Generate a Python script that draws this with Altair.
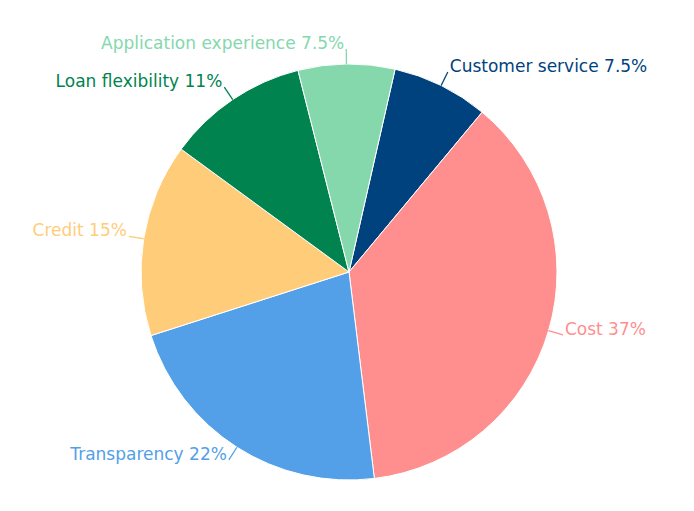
import math
import altair as alt
import pandas as pd

# Data (clockwise from the slice right of 12 o'clock)
categories = ["Customer service", "Cost", "Transparency", "Credit",
              "Loan flexibility", "Application experience"]
values = [7.5, 37, 22, 15, 11, 7.5]
colors = ["#00427e", "#ff8f8f", "#53a0e8", "#ffcd7a", "#00834f", "#84d8ac"]

df = pd.DataFrame({
    "category": categories,
    "value": values,
    "color": colors,
    "order": list(range(len(categories))),
})

CX, CY = 341, 264      # pie centre (chart coordinates)
R = 208                # pie radius
R_LINE = 223           # connector end radius
START = 12.8 * math.pi / 180
FONT = "DejaVu Sans"
FS = 17

base = (
    alt.Chart(df)
    .transform_joinaggregate(total="sum(value)")
    .transform_window(cum="sum(value)", sort=[alt.SortField("order")], frame=[None, 0])
    .transform_calculate(a0=f"{START} + 2*PI*(datum.cum - datum.value)/datum.total")
    .transform_calculate(a1=f"{START} + 2*PI*datum.cum/datum.total")
    .transform_calculate(mid="(datum.a0 + datum.a1)/2")
    .transform_calculate(px=f"{CX} + {R}*sin(datum.mid)")
    .transform_calculate(py=f"{CY} - {R}*cos(datum.mid)")
    .transform_calculate(qx=f"{CX} + {R_LINE}*sin(datum.mid)")
    .transform_calculate(qy=f"{CY} - {R_LINE}*cos(datum.mid)")
    .transform_calculate(side="sin(datum.mid) >= 0 ? 'right' : 'left'")
    .transform_calculate(label="datum.category + ' ' + datum.value + '%'")
)

arcs = base.mark_arc(radius=R, stroke="white", strokeWidth=1).encode(
    theta=alt.Theta("a0:Q", scale=None),
    theta2="a1:Q",
    x=alt.value(CX),
    y=alt.value(CY),
    color=alt.Color("color:N", scale=None),
)

connectors = base.mark_rule(strokeWidth=1.3).encode(
    x=alt.X("px:Q", scale=None, axis=None),
    y=alt.Y("py:Q", scale=None, axis=None),
    x2="qx:Q",
    y2="qy:Q",
    color=alt.Color("color:N", scale=None),
)

text_right = base.transform_filter("datum.side == 'right'").mark_text(
    align="left", baseline="middle", dx=2, dy=-5, font=FONT, fontSize=FS
).encode(
    x=alt.X("qx:Q", scale=None, axis=None),
    y=alt.Y("qy:Q", scale=None, axis=None),
    text="label:N",
    color=alt.Color("color:N", scale=None),
)

text_left = base.transform_filter("datum.side == 'left'").mark_text(
    align="right", baseline="middle", dx=-2, dy=-5, font=FONT, fontSize=FS
).encode(
    x=alt.X("qx:Q", scale=None, axis=None),
    y=alt.Y("qy:Q", scale=None, axis=None),
    text="label:N",
    color=alt.Color("color:N", scale=None),
)

chart = (
    alt.layer(arcs, connectors, text_right, text_left)
    .properties(width=678, height=495, autosize=alt.AutoSizeParams(type="none"), padding=0,
                background="white")
    .configure_view(stroke=None)
)

chart.save("out.html", embed_options={"renderer": "svg", "actions": False})
